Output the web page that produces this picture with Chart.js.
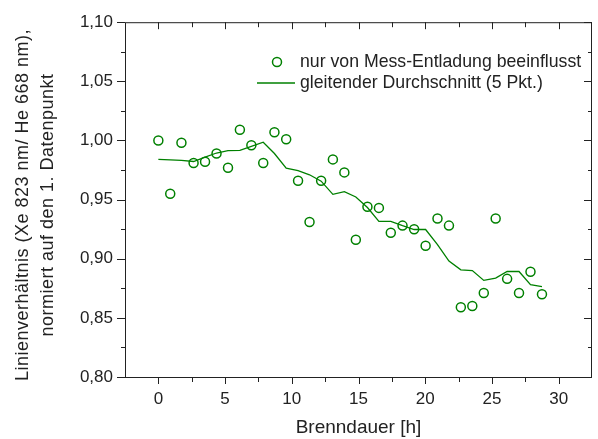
<!DOCTYPE html>
<html>
<head>
<meta charset="utf-8">
<script src="https://cdn.jsdelivr.net/npm/chart.js@4.4.0/dist/chart.umd.min.js"></script>
<style>
  html, body { margin:0; padding:0; background:#fff; }
  #wrap { width:598px; height:439px; }
</style>
</head>
<body>
<div id="wrap"><canvas id="chart" width="598" height="439"></canvas></div>
<script>
// Burn time in hours and normalised line ratio
const hours = [0, 0.89, 1.73, 2.64, 3.50, 4.36, 5.22, 6.11, 6.97, 7.86, 8.70, 9.58,
  10.47, 11.33, 12.20, 13.08, 13.94, 14.80, 15.67, 16.53, 17.42, 18.30, 19.17, 20.03,
  20.92, 21.78, 22.67, 23.53, 24.39, 25.28, 26.14, 27.03, 27.89, 28.75];
const ratio = [1.000, 0.955, 0.998, 0.981, 0.982, 0.989, 0.977, 1.009, 0.996, 0.981, 1.007, 1.001,
  0.966, 0.931, 0.966, 0.984, 0.973, 0.916, 0.944, 0.943, 0.922, 0.928, 0.925, 0.911,
  0.934, 0.928, 0.859, 0.860, 0.871, 0.934, 0.883, 0.871, 0.889, 0.870];
const movingAvg = [0.984, 0.9836, 0.9831, 0.9822, 0.986, 0.9894, 0.9914, 0.9917, 0.995, 0.9985, 0.989, 0.9765,
  0.9745, 0.971, 0.9656, 0.9544, 0.9567, 0.9522, 0.9433, 0.9316, 0.9316, 0.928, 0.9247, 0.9247,
  0.912, 0.898, 0.8906, 0.890, 0.8817, 0.8836, 0.8892, 0.8892, 0.878, 0.8764];

const xTicks = [0, 5, 10, 15, 20, 25, 30];
const yTicks = [0.80, 0.85, 0.90, 0.95, 1.00, 1.05, 1.10];
const seriesNames = ['nur von Mess-Entladung beeinflusst', 'gleitender Durchschnitt (5 Pkt.)'];
const xTitle = 'Brenndauer [h]';
const yTitle = ['Linienverhältnis (Xe 823 nm/ He 668 nm),', 'normiert auf den 1. Datenpunkt'];

const GREEN = '#008000';
const INK = '#222';
const FONT = '"Liberation Sans", Arial, sans-serif';

function toXY(xs, ys){ return xs.map((x, i) => ({ x: x, y: ys[i] })); }

// frame, ticks on all four sides, y title and the legend
const decor = {
  id: 'decor',
  afterDraw(chart){
    const ctx = chart.ctx, a = chart.chartArea;
    const sx = chart.scales.x, sy = chart.scales.y;
    ctx.save();
    ctx.strokeStyle = INK;
    ctx.lineWidth = 1;
    ctx.strokeRect(a.left + 0.5, a.top + 0.5, a.right - a.left - 1, a.bottom - a.top);

    function minors(arr){ const m = []; for(let i = 0; i < arr.length - 1; i++) m.push((arr[i] + arr[i+1]) / 2); return m; }
    ctx.beginPath();
    xTicks.forEach(v => {
      const px = Math.round(sx.getPixelForValue(v)) + 0.5;
      ctx.moveTo(px, a.bottom); ctx.lineTo(px, a.bottom + 7);
      ctx.moveTo(px, a.top); ctx.lineTo(px, a.top + 7);
    });
    minors(xTicks).forEach(v => {
      const px = Math.round(sx.getPixelForValue(v)) + 0.5;
      ctx.moveTo(px, a.bottom); ctx.lineTo(px, a.bottom + 5);
      ctx.moveTo(px, a.top); ctx.lineTo(px, a.top + 5);
    });
    yTicks.forEach(v => {
      const py = Math.round(sy.getPixelForValue(v)) + 0.5;
      ctx.moveTo(a.left, py); ctx.lineTo(a.left - 8, py);
      ctx.moveTo(a.right, py); ctx.lineTo(a.right - 8, py);
    });
    minors(yTicks).forEach(v => {
      const py = Math.round(sy.getPixelForValue(v)) + 0.5;
      ctx.moveTo(a.left, py); ctx.lineTo(a.left - 4, py);
      ctx.moveTo(a.right, py); ctx.lineTo(a.right - 4, py);
    });
    ctx.stroke();

    // y axis title, two lines rotated
    ctx.fillStyle = INK;
    ctx.font = '18px ' + FONT;
    if('letterSpacing' in ctx) ctx.letterSpacing = '0.5px';
    ctx.textAlign = 'center';
    ctx.textBaseline = 'middle';
    ctx.translate(0, 205);
    ctx.rotate(-Math.PI / 2);
    ctx.fillText(yTitle[0], 0, 23);
    ctx.fillText(yTitle[1], 0, 48);
    ctx.setTransform(1, 0, 0, 1, 0, 0);
    if('letterSpacing' in ctx) ctx.letterSpacing = '0px';

    // legend
    const ds0 = chart.data.datasets[0], ds1 = chart.data.datasets[1];
    ctx.strokeStyle = ds0.borderColor;
    ctx.lineWidth = ds0.borderWidth;
    ctx.beginPath();
    ctx.arc(277, 62, ds0.pointRadius, 0, Math.PI * 2);
    ctx.stroke();
    ctx.strokeStyle = ds1.borderColor;
    ctx.lineWidth = ds1.borderWidth;
    ctx.beginPath();
    ctx.moveTo(257, 83); ctx.lineTo(295, 83);
    ctx.stroke();
    ctx.font = '17.7px ' + FONT;
    ctx.textAlign = 'left';
    ctx.fillText(ds0.label, 300, 62);
    ctx.fillText(ds1.label, 300, 83);
    ctx.restore();
  }
};

new Chart(document.getElementById('chart'), {
  type: 'scatter',
  data: {
    datasets: [
      {
        label: seriesNames[0],
        data: toXY(hours, ratio),
        showLine: false,
        pointStyle: 'circle',
        pointRadius: 4.5,
        pointHoverRadius: 4.5,
        borderWidth: 1.5,
        borderColor: GREEN,
        backgroundColor: 'rgba(0,0,0,0)'
      },
      {
        label: seriesNames[1],
        data: toXY(hours, movingAvg),
        showLine: true,
        pointRadius: 0,
        borderWidth: 1.3,
        borderColor: GREEN,
        backgroundColor: GREEN,
        tension: 0
      }
    ]
  },
  options: {
    responsive: false,
    animation: false,
    devicePixelRatio: 1,
    layout: { padding: { top: 17, right: 1, left: 0, bottom: 0 } },
    plugins: { legend: { display: false }, tooltip: { enabled: false } },
    scales: {
      x: {
        type: 'linear',
        min: -2.5, max: 32.5,
        afterBuildTicks: s => { s.ticks = xTicks.map(v => ({ value: v })); },
        afterFit: s => { s.height = 62; },
        grid: { display: false, drawTicks: false },
        border: { display: false },
        ticks: { color: INK, font: { family: FONT, size: 17 }, padding: 12, maxRotation: 0, callback: v => String(v) },
        title: { display: true, text: xTitle, color: INK, font: { family: FONT, size: 19 }, padding: { top: 0, bottom: 0 } }
      },
      y: {
        type: 'linear',
        min: 0.8, max: 1.1,
        afterBuildTicks: s => { s.ticks = yTicks.map(v => ({ value: v })); },
        afterFit: s => { s.width = 125; },
        grid: { display: false, drawTicks: false },
        border: { display: false },
        ticks: { color: INK, font: { family: FONT, size: 17 }, padding: 12, callback: v => v.toFixed(2).replace('.', ',') }
      }
    }
  },
  plugins: [decor]
});
</script>
</body>
</html>
